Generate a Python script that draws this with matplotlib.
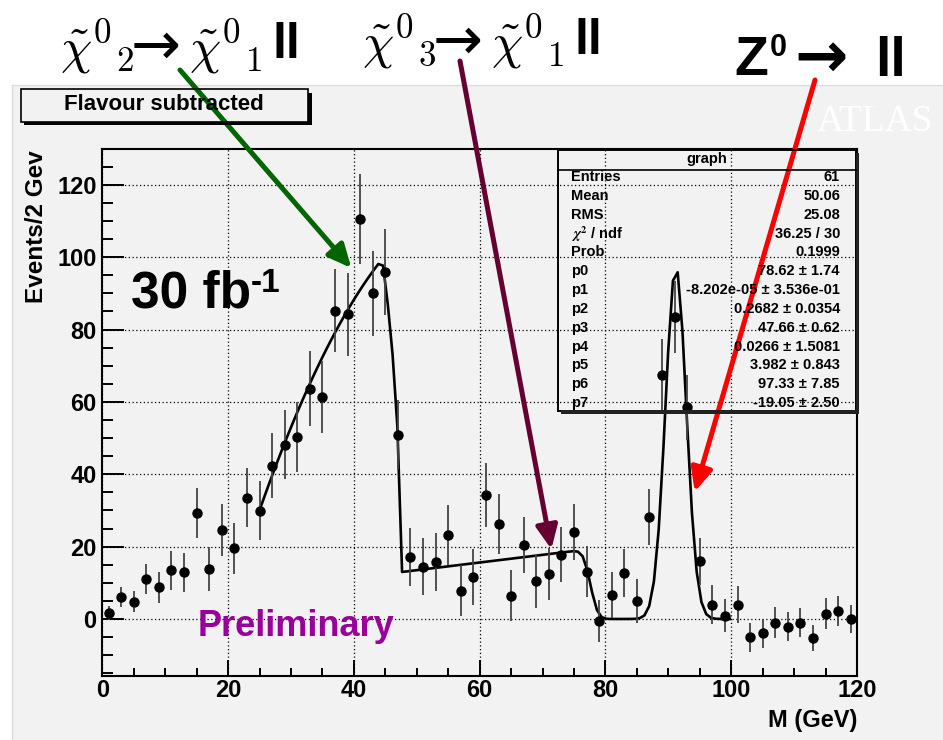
import numpy as np
import matplotlib
matplotlib.use("Agg")
import matplotlib.pyplot as plt
from matplotlib.patches import Rectangle
from matplotlib.ticker import MultipleLocator
from math import erfc

plt.rcParams['font.family'] = ['Liberation Sans', 'DejaVu Sans']
plt.rcParams['font.weight'] = 'bold'

# ---- data: flavour-subtracted dilepton mass, 2 GeV bins ----
bin_centres = np.arange(1, 120, 2)
events = [1.6, 6.1, 4.8, 11.0, 8.8, 13.4, 12.9, 29.3, 13.8, 24.5,
          19.5, 33.5, 29.9, 42.4, 48.2, 50.2, 63.7, 61.3, 85.2, 84.2,
          110.6, 90.0, 95.9, 50.9, 17.1, 14.4, 15.7, 23.2, 7.8, 11.7,
          34.3, 26.3, 6.4, 20.4, 10.4, 12.5, 17.8, 24.0, 13.1, -0.6,
          6.6, 12.8, 5.0, 28.1, 67.4, 83.4, 58.5, 15.9, 4.0, 0.9,
          4.0, -5.0, -3.9, -1.0, -2.2, -1.1, -5.3, 1.5, 2.2, 0.0]
errors = [2.0, 2.8, 2.9, 4.2, 4.3, 5.3, 5.4, 7.0, 6.1, 7.2,
          7.0, 8.2, 8.1, 9.0, 9.5, 9.7, 10.4, 9.9, 11.4, 11.4,
          12.5, 11.7, 11.9, 9.5, 8.1, 7.9, 8.1, 8.3, 7.0, 7.7,
          8.8, 8.3, 7.0, 7.8, 7.3, 7.2, 7.5, 7.7, 7.0, 5.9,
          6.3, 6.6, 6.0, 7.7, 9.9, 10.0, 9.0, 6.6, 5.3, 4.6,
          5.2, 4.0, 4.0, 4.3, 4.0, 4.0, 3.5, 4.3, 4.2, 3.8]

# ---- fit model parameters ----
fit_lo, fit_hi, fit_npx = 25.0, 99.8, 100
ramp_x0, ramp_a, ramp_b, ramp_c = 25.3, 31.5, 4.9, 0.0708
edge_pos, edge_width = 47.5, 3.0
bkg_x0, bkg_a, bkg_slope = 47.7, 13.0, 0.212
cutoff_pos, cutoff_width = 77.6, 1.3
z_amp, z_mean, z_sigma = 97.3, 91.2, 1.65

stat_names = ["Entries", "Mean", "RMS", r"$\chi^{2}$ / ndf", "Prob",
              "p0", "p1", "p2", "p3", "p4", "p5", "p6", "p7"]
stat_values = ["61", "50.06", "25.08", "36.25 / 30", "0.1999",
               "78.62 \u00b1 1.74", "-8.202e-05 \u00b1 3.536e-01",
               "0.2682 \u00b1 0.0354", "47.66 \u00b1 0.62",
               "0.0266 \u00b1 1.5081", "3.982 \u00b1 0.843",
               "97.33 \u00b1 7.85", "-19.05 \u00b1 2.50"]


def fit_model(x):
    ramp = ramp_a + ramp_b * (x - ramp_x0) - ramp_c * (x - ramp_x0) ** 2
    bkg = bkg_a + bkg_slope * (x - bkg_x0)
    off = np.array([0.5 * erfc((v - cutoff_pos) / cutoff_width) for v in x])
    cut = np.sqrt(np.clip((edge_pos - x) / edge_width, 0, 1))
    gauss = z_amp * np.exp(-0.5 * ((x - z_mean) / z_sigma) ** 2)
    return bkg * off + (ramp - bkg) * cut + gauss


W, H = 943, 740
fig = plt.figure(figsize=(W / 100, H / 100), dpi=100)
fig.patch.set_facecolor('white')


def fp(x, y):
    return x / W, 1 - y / H


def frect(x0, y0, x1, y1, **kw):
    r = Rectangle(fp(x0, y1), (x1 - x0) / W, (y1 - y0) / H,
                  transform=fig.transFigure, **kw)
    fig.add_artist(r)
    return r


# grey pad
frect(12, 85, 944, 741, facecolor='#f2f2f2', edgecolor='#dcdcdc', lw=1, zorder=0)

ax = fig.add_axes([102.3 / W, (H - 676) / H, (857 - 102.3) / W, (676 - 149) / H])
ax.set_facecolor('none')
ax.set_xlim(0, 120)
ax.set_ylim(-15.76, 129.9)
for s in ax.spines.values():
    s.set_linewidth(1.5)
ax.xaxis.set_major_locator(MultipleLocator(20))
ax.xaxis.set_minor_locator(MultipleLocator(5))
ax.yaxis.set_major_locator(MultipleLocator(20))
ax.yaxis.set_minor_locator(MultipleLocator(5))
ax.tick_params(axis='x', which='major', direction='in', length=11.5, width=1.4, pad=2.5,
               labelsize=17)
ax.tick_params(axis='x', which='minor', direction='in', length=5.8, width=1.4)
ax.tick_params(axis='y', which='major', direction='in', length=15.8, width=1.4, pad=4,
               labelsize=17)
ax.tick_params(axis='y', which='minor', direction='in', length=7.9, width=1.4)
for lab in ax.get_xticklabels() + ax.get_yticklabels():
    lab.set_fontweight('bold')
ax.grid(True, which='major', ls=(0, (1, 2)), color='black', lw=0.9)

# data points
ax.errorbar(bin_centres, events, yerr=errors, fmt='o', ms=6.5, color='black',
            ecolor='#444444', elinewidth=1.3, capsize=0, zorder=4)

# fit curve
xf = np.linspace(fit_lo, fit_hi, fit_npx)
ax.plot(xf, fit_model(xf), color='black', lw=1.9, zorder=3)

# axis titles
fig.text(*fp(857, 720), "M (GeV)", ha='right', va='center', fontsize=17, fontweight='bold')
fig.text(*fp(37, 150), "Events/2 Gev", rotation=90, ha='center', va='top',
         fontsize=17.5, fontweight='bold')

# in-frame annotations
fig.text(*fp(131, 308), "30 fb", ha='left', va='baseline', fontsize=37, fontweight='bold')
fig.text(*fp(251, 292), "-1", ha='left', va='baseline', fontsize=24, fontweight='bold')
fig.text(*fp(198, 626), "Preliminary", ha='left', va='center', fontsize=26,
         fontweight='bold', color='#990099')
fig.text(*fp(875, 131), "ATLAS", ha='center', va='baseline', fontsize=27,
         family='Liberation Serif', fontweight='normal', color='white')

# "Flavour subtracted" title box with shadow
frect(20.7, 89, 308, 121.7, facecolor='none', edgecolor='black', lw=1.2, zorder=2)
frect(308, 92.5, 311.5, 125.2, facecolor='black', edgecolor='none', zorder=2)
frect(24.2, 121.7, 311.5, 125.2, facecolor='black', edgecolor='none', zorder=2)
fig.text(*fp(164, 105), "Flavour subtracted", ha='center', va='center',
         fontsize=16, fontweight='bold')

# statistics box
bx0, by0, bx1, by1 = 557.5, 150, 855.5, 410.5
frect(bx0, by0, bx1, by1, facecolor='none', edgecolor='black', lw=1.4, zorder=2)
frect(bx1, by0 + 3, bx1 + 3, by1 + 3.5, facecolor='#222222', edgecolor='none', zorder=2)
frect(bx0 + 3, by1, bx1 + 3, by1 + 3.5, facecolor='#222222', edgecolor='none', zorder=2)
fig.add_artist(plt.Line2D([bx0 / W, bx1 / W], [1 - 169.5 / H] * 2,
                          transform=fig.transFigure, color='black', lw=1.2))
fig.text(*fp(706.5, 159.5), "graph", ha='center', va='center', fontsize=10.5,
         fontweight='bold')
row_y = 177.3
for name, val in zip(stat_names, stat_values):
    fig.text(*fp(571.5, row_y), name, ha='left', va='center', fontsize=10.5,
             fontweight='bold', math_fontfamily='stix')
    fig.text(*fp(840, row_y), val, ha='right', va='center', fontsize=10.5,
             fontweight='bold')
    row_y += 18.8


# process labels above the frame
def neutralino(x0, yb, sub):
    """Chi-tilde with superscript 0 and a staggered subscript; x0 left, yb baseline."""
    fig.text(*fp(x0, yb), r"$\tilde{\chi}^{0}{}_{%s}$" % sub, fontsize=36,
             math_fontfamily='cm', fontweight='normal', ha='left', va='baseline')


def decay_label(dx, dy, sub):
    neutralino(60 + dx, 63 + dy, sub)
    fig.text(*fp(131 + dx, 64 + dy), "\u2192", fontsize=43, family='DejaVu Sans',
             fontweight='normal', ha='left', va='baseline')
    neutralino(189 + dx, 63 + dy, "1")
    fig.text(*fp(273 + dx, 58.5 + dy), "ll", fontsize=36, fontweight='bold',
             ha='left', va='baseline')


decay_label(0, 0, "2")
decay_label(302, -5, "3")

fig.text(*fp(734, 75), "Z", fontsize=40, fontweight='bold', ha='left', va='baseline')
fig.text(*fp(769.5, 55.5), "0", fontsize=22, fontweight='bold', ha='left', va='baseline')
fig.text(*fp(794, 77), "\u2192", fontsize=46, family='DejaVu Sans', fontweight='bold',
         ha='left', va='baseline')
fig.text(*fp(875, 76), "ll", fontsize=40, fontweight='bold', ha='left', va='baseline')

# arrows pointing at the three structures
arrows = [((39.6, 97.0), (180, 70), '#006600'),
          ((71.4, 19.3), (460, 61), '#660033'),
          ((94.2, 35.2), (815, 80), '#ff0000')]
for tip, start, col in arrows:
    ax.annotate("", xy=tip, xycoords='data',
                xytext=(start[0], H - start[1]), textcoords='figure pixels',
                arrowprops=dict(arrowstyle='-|>,head_length=14,head_width=6.5',
                                mutation_scale=1, lw=3.6, color=col,
                                shrinkA=0, shrinkB=0),
                annotation_clip=False, zorder=10)

fig.savefig("out.png", dpi=100, facecolor=fig.get_facecolor())
